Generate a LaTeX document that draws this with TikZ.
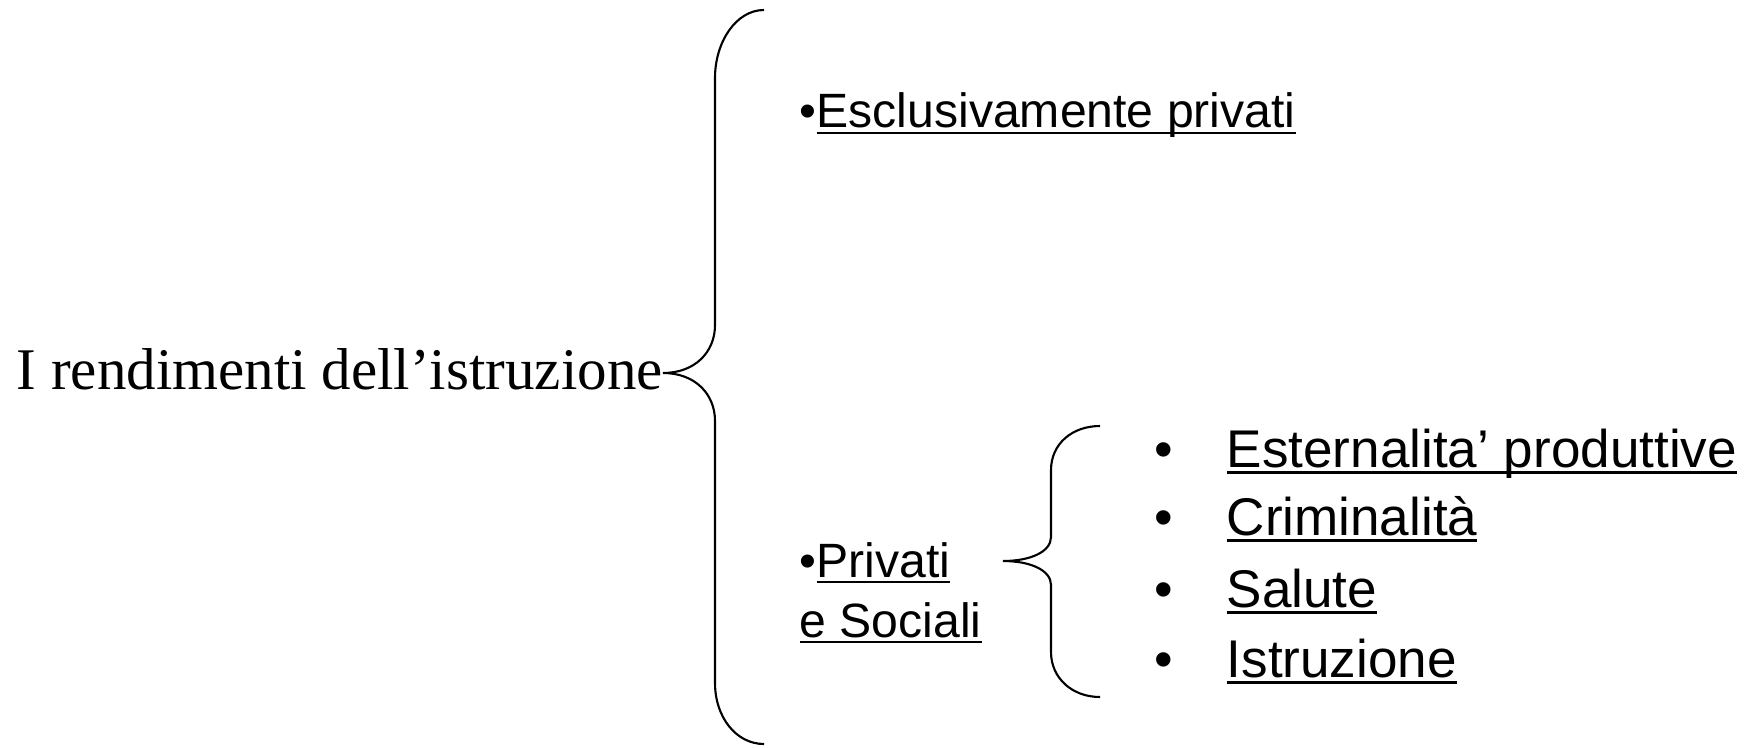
\documentclass[tikz,border=0pt]{standalone}
\usepackage{fontspec}
\setmainfont{Liberation Serif}
\setsansfont{Liberation Sans}
\newsavebox{\sottbox}
\newcommand{\sott}[1]{\sbox{\sottbox}{#1}\rlap{\rule[-0.13em]{\wd\sottbox}{0.7pt}}\usebox{\sottbox}}
\newcommand{\punto}{\makebox[0.72cm][l]{•}}
\tikzset{
	titolo/.style={anchor=base west,inner sep=0pt,font=\fontsize{16.8}{20}\selectfont},
	voce/.style={anchor=base west,inner sep=0pt,font=\sffamily\fontsize{13.7}{16}\selectfont},
	sottovoce/.style={anchor=base west,inner sep=0pt,font=\sffamily\fontsize{15.1}{18}\selectfont},
	graffa/.style={line width=0.6pt}
}

\begin{document}
\begin{tikzpicture}
	\useasboundingbox (0,0) rectangle (17.56,7.47);
	\node[titolo] (rend) at (0.16,3.58) {I rendimenti dell’istruzione};
	\node[voce] (escl) at (7.99,6.19) {•\sott{Esclusivamente privati}};
	\node[voce] (priv) at (7.99,1.70) {•\sott{Privati}};
	\node[voce] (soc) at (7.99,1.10) {\sott{e Sociali}};
	\node[sottovoce] (est) at (11.54,2.80) {\punto\sott{Esternalita’ produttive}};
	\node[sottovoce] (crim) at (11.54,2.12) {\punto\sott{Criminalità}};
	\node[sottovoce] (sal) at (11.54,1.40) {\punto\sott{Salute}};
	\node[sottovoce] (istr) at (11.54,0.70) {\punto\sott{Istruzione}};
	% graffa grande
	\coordinate (gtop) at (7.64,7.37);
	\coordinate (gtip) at (6.63,3.74);
	\coordinate (gbot) at (7.64,0.03);
	\draw[graffa] (gtop) .. controls (7.36,7.37) and (7.15,7.05) .. (7.15,6.69)
		-- (7.15,4.22) .. controls (7.15,3.95) and (6.95,3.74) .. (gtip)
		.. controls (6.95,3.74) and (7.15,3.53) .. (7.15,3.26)
		-- (7.15,0.64) .. controls (7.15,0.30) and (7.36,0.03) .. (gbot);
	% graffa piccola
	\coordinate (ptop) at (11.00,3.21);
	\coordinate (ptip) at (10.03,1.86);
	\coordinate (pbot) at (11.00,0.50);
	\draw[graffa] (ptop) .. controls (10.72,3.21) and (10.51,3.03) .. (10.51,2.77)
		-- (10.51,2.10) .. controls (10.51,1.95) and (10.30,1.86) .. (ptip)
		.. controls (10.30,1.86) and (10.51,1.77) .. (10.51,1.62)
		-- (10.51,0.95) .. controls (10.51,0.69) and (10.72,0.50) .. (pbot);
\end{tikzpicture}
\end{document}
